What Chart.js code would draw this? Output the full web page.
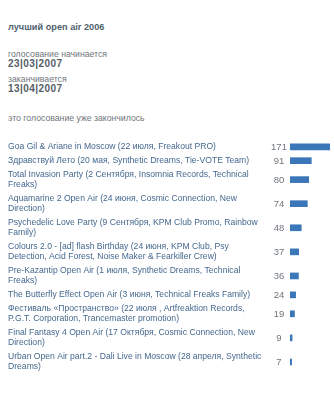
<!DOCTYPE html>
<html>
<head>
<meta charset="utf-8">
<script src="https://cdn.jsdelivr.net/npm/chart.js@4"></script>
<style>
  body { margin: 0; background: #fff; font-family: "Liberation Sans", Arial, sans-serif; }
  .t { position: absolute; left: 8px; white-space: nowrap; line-height: 10px; }
  .title { top: 22px; font-size: 9.2px; font-weight: bold; color: #4f5f6f; }
  .grey { font-size: 8.7px; color: #6f767d; }
  .date { font-size: 10px; font-weight: bold; color: #555d66; letter-spacing: 0.45px; }
  #box { position: absolute; left: 0; top: 140px; width: 334px; height: 234px; }
</style>
</head>
<body>
<div class="t title">лучший open air 2006</div>
<div class="t grey" style="top:49px">голосование начинается</div>
<div class="t date" style="top:59px">23|03|2007</div>
<div class="t grey" style="top:74px">заканчивается</div>
<div class="t date" style="top:84px">13|04|2007</div>
<div class="t grey" style="top:113px">это голосование уже закончилось</div>
<div id="box"><canvas id="pollChart"></canvas></div>
<script>
// варианты ответа (строки разбиты как на картинке)
const options = [
    ['Goa Gil & Ariane in Moscow (22 июля, Freakout PRO)'],
    ['Здравствуй Лето (20 мая, Synthetic Dreams, Tie-VOTE Team)'],
    ['Total Invasion Party (2 Сентября, Insomnia Records, Technical', 'Freaks)'],
    ['Aquamarine 2 Open Air (24 июня, Cosmic Connection, New', 'Direction)'],
    ['Psychedelic Love Party (9 Сентября, KPM Club Promo, Rainbow', 'Family)'],
    ['Colours 2.0 - [ad] flash Birthday (24 июня, KPM Club, Psy', 'Detection, Acid Forest, Noise Maker & Fearkiller Crew)'],
    ['Pre-Kazantip Open Air (1 июля, Synthetic Dreams, Technical', 'Freaks)'],
    ['The Butterfly Effect Open Air (3 июня, Technical Freaks Family)'],
    ['Фестиваль «Пространство» (22 июля , Artfreaktion Records,', 'P.G.T. Corporation, Trancemaster promotion)'],
    ['Final Fantasy 4 Open Air (17 Октября, Cosmic Connection, New', 'Direction)'],
    ['Urban Open Air part.2 - Dali Live in Moscow (28 апреля, Synthetic', 'Dreams)']
];
// голоса
const votes = [171, 91, 80, 74, 48, 37, 36, 24, 19, 9, 7];

// высота строки зависит от числа строк текста
const rowGap = 3.5, lineH = 10.3;
const rowPos = [];
let acc = 0;
options.forEach(lines => {
    const h = rowGap + lineH * lines.length;
    rowPos.push(acc + h / 2);
    acc += h;
});
const total = acc;

// число голосов слева от полоски
const voteLabels = {
    id: 'voteLabels',
    afterDatasetsDraw(chart) {
        const ctx = chart.ctx;
        const meta = chart.getDatasetMeta(0);
        ctx.save();
        ctx.font = '9.5px "Liberation Sans", Arial, sans-serif';
        ctx.fillStyle = '#6f767d';
        ctx.textAlign = 'center';
        ctx.textBaseline = 'middle';
        meta.data.forEach((bar, i) => {
            ctx.fillText(String(votes[i]), bar.base - 11, bar.y + 0.5);
        });
        ctx.restore();
    }
};

const ctx = document.getElementById('pollChart').getContext('2d');
const pollChart = new Chart(ctx, {
    type: 'bar',
    data: {
        datasets: [{
            data: votes.map((v, i) => ({ x: v, y: rowPos[i] })),
            backgroundColor: (c) => {
                const el = c.element;
                if (!el || el.y === undefined) return '#3a76b8';
                const g = c.chart.ctx.createLinearGradient(0, el.y - 3, 0, el.y + 3);
                g.addColorStop(0, '#8db4de');
                g.addColorStop(0.35, '#3a78bd');
                g.addColorStop(1, '#1f5a9c');
                return g;
            },
            barThickness: 6,
            borderWidth: 0
        }]
    },
    options: {
        indexAxis: 'y',
        responsive: true,
        maintainAspectRatio: false,
        animation: false,
        layout: { padding: { left: 8, right: 4, top: 0, bottom: 0 } },
        plugins: { legend: { display: false }, tooltip: { enabled: false } },
        scales: {
            x: { type: 'linear', min: 0, max: 171, display: false },
            y: {
                type: 'linear',
                reverse: true,
                offset: false,
                min: 0,
                max: total,
                grid: { display: false },
                border: { display: false },
                afterBuildTicks: (axis) => { axis.ticks = rowPos.map(v => ({ value: v })); },
                afterFit: (s) => {
                    s.width = 282;
                    s.paddingTop = 0;
                    s.paddingBottom = 0;
                },
                ticks: {
                    autoSkip: false,
                    crossAlign: 'far',
                    color: '#45688e',
                    font: { family: '"Liberation Sans", Arial, sans-serif', size: 8.6, lineHeight: 1.2 },
                    callback: (value, index) => options[index]
                }
            }
        }
    },
    plugins: [voteLabels]
});
</script>
</body>
</html>
